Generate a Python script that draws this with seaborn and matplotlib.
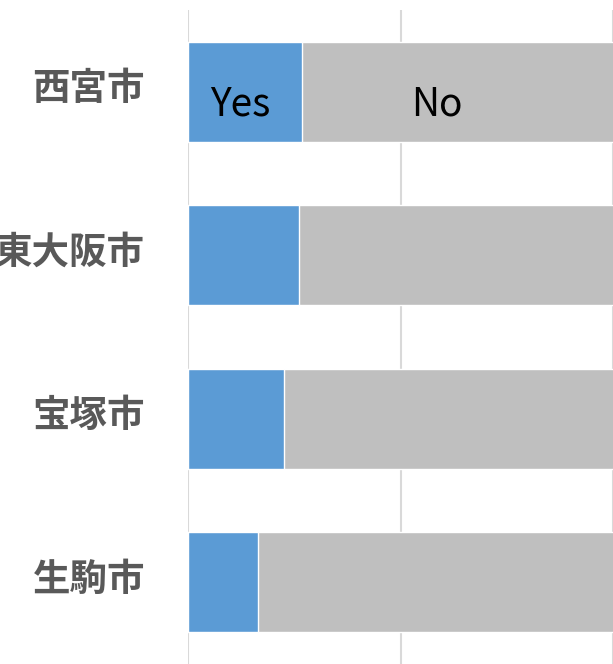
"""Stacked Yes/No share by city (horizontal bars)."""

import pandas as pd
import seaborn as sns
import matplotlib.pyplot as plt
import matplotlib.transforms as mtransforms

###################################################################################################
###################################################################################################

cities = ['西宮市', '東大阪市', '宝塚市', '生駒市']
yes_pct = [10.7, 10.4, 9.0, 6.6]
no_pct = [100 - v for v in yes_pct]

df = pd.DataFrame({'city': cities, 'yes': yes_pct, 'no': no_pct})
df['total'] = df['yes'] + df['no']

sns.set_style('white')
plt.rcParams['font.family'] = ['Noto Sans CJK JP', 'DejaVu Sans']

fig = plt.figure(figsize=[6.13, 6.64], dpi=100)
ax = fig.add_axes([188 / 613, 0.0, 1 - 188 / 613, 654 / 664])

# Grey full bar first, then the blue "Yes" part on top
sns.barplot(data=df, x='total', y='city', color='#BFBFBF', saturation=1,
            width=0.61, edgecolor='white', linewidth=1, ax=ax)
sns.barplot(data=df, x='yes', y='city', color='#5B9BD5', saturation=1,
            width=0.61, edgecolor='white', linewidth=1, ax=ax)

ax.set_xlim(0, 39.9)
ax.set_ylim(3.5, -0.5)
ax.set_xticks([0, 20, 40])
ax.set_xticklabels([])
ax.xaxis.grid(True, color='#D9D9D9', linewidth=1.5)
ax.set_axisbelow(True)

# Segment labels on the first bar only
ax.text(4.9, 0.08, 'Yes', fontsize=28, ha='center', va='center', color='black')
ax.text(23.4, 0.08, 'No', fontsize=28, ha='center', va='center', color='black')

ax.set_xlabel('')
ax.set_ylabel('')
ax.tick_params(axis='y', length=0, pad=31, labelsize=27, labelcolor='#595959')
shift = mtransforms.ScaledTranslation(0, 0.07, fig.dpi_scale_trans)
for lab in ax.get_yticklabels():
    lab.set_fontweight('bold')
    lab.set_transform(lab.get_transform() + shift)
ax.tick_params(axis='x', length=0)

for side in ['top', 'right', 'bottom', 'left']:
    ax.spines[side].set_visible(False)

plt.savefig('out.png', dpi=100)
